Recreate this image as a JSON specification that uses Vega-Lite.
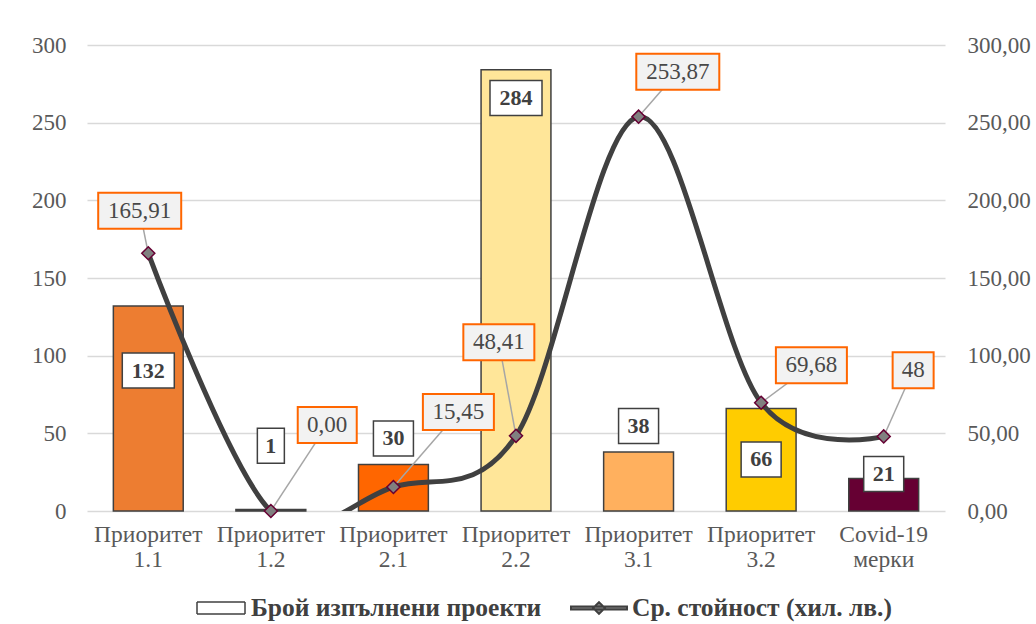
{
  "$schema": "https://vega.github.io/schema/vega-lite/v6.json",
  "width": 858,
  "height": 466,
  "autosize": {"type": "none"},
  "padding": {"left": 87, "top": 45, "right": 91, "bottom": 113},
  "background": "white",
  "config": {
    "font": "Liberation Serif",
    "view": {"stroke": null},
    "axis": {"labelFont": "Liberation Serif", "titleFont": "Liberation Serif"},
    "legend": {"labelFont": "Liberation Serif", "titleFont": "Liberation Serif"},
    "text": {"font": "Liberation Serif"}
  },
  "data": {
    "values": [
      {"cat": "Приоритет 1.1", "count": 132, "avg": 165.91, "avgText": "165,91", "countLabelY": 90.4, "avgLabelDx": -0.07, "avgLabelY": 193.3},
      {"cat": "Приоритет 1.2", "count": 1, "avg": 0, "avgText": "0,00", "countLabelY": 42, "avgLabelDx": 0.46, "avgLabelY": 55.4},
      {"cat": "Приоритет 2.1", "count": 30, "avg": 15.45, "avgText": "15,45", "countLabelY": 46.7, "avgLabelDx": 0.53, "avgLabelY": 63.7},
      {"cat": "Приоритет 2.2", "count": 284, "avg": 48.41, "avgText": "48,41", "countLabelY": 265.9, "avgLabelDx": -0.14, "avgLabelY": 108.6},
      {"cat": "Приоритет 3.1", "count": 38, "avg": 253.87, "avgText": "253,87", "countLabelY": 54.7, "avgLabelDx": 0.32, "avgLabelY": 282.8},
      {"cat": "Приоритет 3.2", "count": 66, "avg": 69.68, "avgText": "69,68", "countLabelY": 33.2, "avgLabelDx": 0.41, "avgLabelY": 93.8},
      {"cat": "Covid-19 мерки", "count": 21, "avg": 48, "avgText": "48", "countLabelY": 23.8, "avgLabelDx": 0.24, "avgLabelY": 90.6}
    ]
  },
  "resolve": {"scale": {"x": "independent", "y": "independent", "shape": "independent"}},
  "layer": [
    {
      "transform": [{"calculate": "length(toString(datum.count))", "as": "countLen"}],
      "layer": [
        {
          "mark": {"type": "bar", "stroke": "#404040", "strokeWidth": 1.5},
          "encoding": {
            "x": {
              "field": "cat", "type": "nominal", "sort": null,
              "scale": {"paddingInner": 0.43, "paddingOuter": 0.215},
              "axis": {"title": null, "labelAngle": 0, "labelExpr": "split(datum.label, ' ')", "labelFont": "Liberation Serif", "labelFontSize": 23.5, "labelColor": "#595959", "labelLineHeight": 25, "labelPadding": 11, "ticks": false, "domain": false}
            },
            "y": {
              "field": "count", "type": "quantitative", "scale": {"domain": [0, 300]},
              "axis": {"title": null, "values": [0, 50, 100, 150, 200, 250, 300], "grid": true, "gridColor": "#D9D9D9", "gridWidth": 1.5, "domain": false, "ticks": false, "labelFont": "Liberation Serif", "labelFontSize": 23, "labelColor": "#595959", "labelPadding": 21}
            },
            "fill": {
              "field": "cat", "type": "nominal", "sort": null,
              "scale": {
                "domain": ["Приоритет 1.1", "Приоритет 1.2", "Приоритет 2.1", "Приоритет 2.2", "Приоритет 3.1", "Приоритет 3.2", "Covid-19 мерки"],
                "range": ["#ED7D31", "#FFFFFF", "#FF6600", "#FFE699", "#FFB05E", "#FFCC00", "#660033"]
              },
              "legend": null
            },
            "strokeDash": {
              "datum": "Брой изпълнени проекти", "type": "nominal",
              "scale": {"range": [[1, 0]]},
              "legend": {"title": null, "orient": "none", "legendX": 109, "legendY": 538, "symbolType": "M-1,-0.25H1V0.25H-1Z", "symbolSize": 2304, "symbolFillColor": "#FFFFFF", "symbolStrokeColor": "#404040", "symbolStrokeWidth": 1.5, "labelFontSize": 25.5, "labelFontWeight": "bold", "labelColor": "#404040", "labelFont": "Liberation Serif", "labelOffset": 5, "labelLimit": 500}
            }
          }
        },
        {
          "mark": {"type": "point", "filled": true, "fill": "#FFFFFF", "stroke": "#404040", "strokeWidth": 1.5, "opacity": 1, "size": 400},
          "encoding": {
            "x": {"field": "cat", "type": "nominal", "sort": null},
            "y": {"field": "countLabelY", "type": "quantitative", "title": null},
            "shape": {
              "field": "countLen", "type": "nominal",
              "scale": {"domain": [1, 2, 3], "range": ["M-1.35,-1.75H1.35V1.75H-1.35Z", "M-2,-1.75H2V1.75H-2Z", "M-2.6,-1.75H2.6V1.75H-2.6Z"]},
              "legend": null
            }
          }
        },
        {
          "mark": {"type": "text", "font": "Liberation Serif", "fontSize": 22, "fontWeight": "bold", "color": "#404040", "baseline": "middle", "align": "center"},
          "encoding": {
            "x": {"field": "cat", "type": "nominal", "sort": null},
            "y": {"field": "countLabelY", "type": "quantitative", "title": null},
            "text": {"field": "count", "type": "quantitative"}
          }
        }
      ]
    },
    {
      "transform": [
        {"window": [{"op": "row_number", "as": "rn"}]},
        {"calculate": "datum.rn - 1", "as": "i"},
        {"calculate": "datum.i + datum.avgLabelDx", "as": "lx"},
        {"calculate": "length(datum.avgText)", "as": "avgLen"}
      ],
      "layer": [
        {
          "mark": {"type": "rule", "stroke": "#A6A6A6", "strokeWidth": 1.5},
          "encoding": {
            "x": {"field": "i", "type": "quantitative", "scale": {"domain": [-0.5, 6.5], "nice": false, "zero": false}, "axis": null},
            "y": {
              "field": "avg", "type": "quantitative", "scale": {"domain": [0, 300]},
              "axis": {"title": null, "orient": "right", "values": [0, 50, 100, 150, 200, 250, 300], "labelExpr": "replace(format(datum.value, '.2f'), '.', ',')", "grid": false, "domain": false, "ticks": false, "labelFont": "Liberation Serif", "labelFontSize": 23, "labelColor": "#595959", "labelPadding": 22}
            },
            "x2": {"field": "lx"},
            "y2": {"field": "avgLabelY"}
          }
        },
        {
          "mark": {"type": "line", "interpolate": "cardinal", "strokeWidth": 5, "clip": true},
          "encoding": {
            "x": {"field": "i", "type": "quantitative", "axis": null},
            "y": {"field": "avg", "type": "quantitative", "title": null},
            "stroke": {
              "datum": "Ср. стойност (хил. лв.)", "type": "nominal",
              "scale": {"range": ["#404040"]},
              "legend": {"title": null, "orient": "none", "legendX": 483, "legendY": 534, "symbolType": "M-1,-0.05H1V0.05H-1Z M0,-0.21L0.21,0L0,0.21L-0.21,0Z", "symbolSize": 3136, "symbolFillColor": "#808080", "symbolStrokeWidth": 2, "labelFontSize": 25.5, "labelFontWeight": "bold", "labelColor": "#404040", "labelFont": "Liberation Serif", "labelOffset": 4, "labelLimit": 500}
            }
          }
        },
        {
          "mark": {"type": "point", "shape": "diamond", "filled": true, "fill": "#808080", "stroke": "#660033", "strokeWidth": 1.5, "size": 170, "opacity": 1},
          "encoding": {
            "x": {"field": "i", "type": "quantitative", "axis": null},
            "y": {"field": "avg", "type": "quantitative", "title": null}
          }
        },
        {
          "mark": {"type": "point", "filled": true, "fill": "#F2F2F2", "stroke": "#FF6600", "strokeWidth": 2, "opacity": 1, "size": 400},
          "encoding": {
            "x": {"field": "lx", "type": "quantitative", "axis": null},
            "y": {"field": "avgLabelY", "type": "quantitative", "title": null},
            "shape": {
              "field": "avgLen", "type": "nominal",
              "scale": {"domain": [2, 4, 5, 6], "range": ["M-2.05,-1.8H2.05V1.8H-2.05Z", "M-2.95,-1.8H2.95V1.8H-2.95Z", "M-3.55,-1.8H3.55V1.8H-3.55Z", "M-4.15,-1.8H4.15V1.8H-4.15Z"]},
              "legend": null
            }
          }
        },
        {
          "mark": {"type": "text", "font": "Liberation Serif", "fontSize": 23, "color": "#484848", "baseline": "middle", "align": "center"},
          "encoding": {
            "x": {"field": "lx", "type": "quantitative", "axis": null},
            "y": {"field": "avgLabelY", "type": "quantitative", "title": null},
            "text": {"field": "avgText", "type": "nominal"}
          }
        }
      ]
    }
  ]
}
